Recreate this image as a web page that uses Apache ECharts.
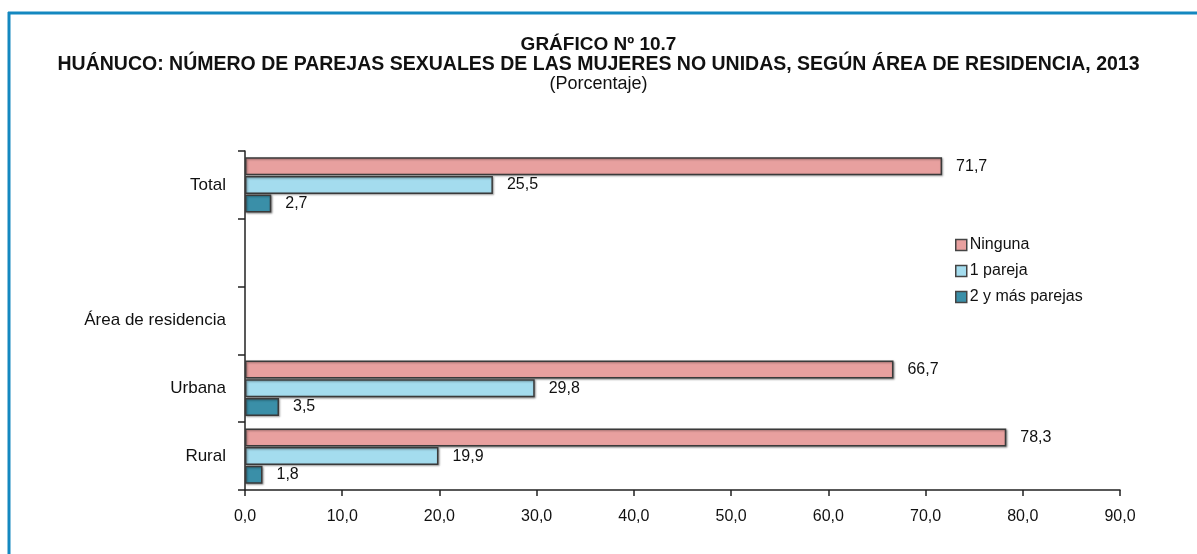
<!DOCTYPE html>
<html>
<head>
<meta charset="utf-8">
<script src="https://cdn.jsdelivr.net/npm/echarts@6/dist/echarts.min.js"></script>
<style>
  html, body { margin: 0; padding: 0; background: #fff; }
  #chart { width: 1197px; height: 554px; }
</style>
</head>
<body>
<div id="chart"></div>
<script>
// Huánuco 2013: parejas sexuales de mujeres no unidas, según área de residencia
const categories = ['Total', '', 'Área de residencia', 'Urbana', 'Rural'];
const seriesNames = ['Ninguna', '1 pareja', '2 y más parejas'];
const ninguna = [71.7, null, null, 66.7, 78.3];
const unaPareja = [25.5, null, null, 29.8, 19.9];
const dosYMas = [2.7, null, null, 3.5, 1.8];
const xTicks = { min: 0, max: 90, interval: 10 };

const FONT = "'Liberation Sans Narrow', 'Liberation Sans', Arial, sans-serif";
const colors = ['#e8a09f', '#a4dcee', '#3a8fa8'];

function fmt(v) {
  return Number(v).toFixed(1).replace('.', ',');
}

function barSeries(name, data, color) {
  return {
    name,
    type: 'bar',
    data,
    barWidth: 18,
    barGap: '4%',
    itemStyle: {
      color,
      borderColor: '#3a3a3a',
      borderWidth: 1.5,
      shadowColor: 'rgba(0,0,0,0.35)',
      shadowBlur: 2,
      shadowOffsetX: 1,
      shadowOffsetY: 1,
    },
    label: {
      show: true,
      position: 'right',
      distance: 14,
      color: '#111',
      fontFamily: FONT,
      fontSize: 16,
      formatter: p => (p.value == null ? '' : fmt(p.value)),
    },
  };
}

const chart = echarts.init(document.getElementById('chart'));
chart.setOption({
  backgroundColor: '#fff',
  animation: false,
  title: [
    {
      text: 'GRÁFICO Nº 10.7',
      left: 'center', top: 30,
      textStyle: { fontFamily: FONT, fontSize: 19, fontWeight: 'bold', color: '#111' },
    },
    {
      text: 'HUÁNUCO: NÚMERO DE PAREJAS SEXUALES DE LAS MUJERES NO UNIDAS, SEGÚN ÁREA DE RESIDENCIA, 2013',
      left: 'center', top: 50,
      textStyle: { fontFamily: FONT, fontSize: 19.5, fontWeight: 'bold', color: '#111' },
    },
    {
      text: '(Porcentaje)',
      left: 'center', top: 70,
      textStyle: { fontFamily: FONT, fontSize: 18, fontWeight: 'normal', color: '#111' },
    },
  ],
  graphic: [
    { type: 'line', shape: { x1: 8, y1: 13, x2: 1197, y2: 13 }, style: { stroke: '#1488c0', lineWidth: 3 } },
    { type: 'line', shape: { x1: 9, y1: 12, x2: 9, y2: 554 }, style: { stroke: '#1488c0', lineWidth: 3 } },
  ],
  legend: {
    orient: 'vertical',
    left: 955,
    top: 236,
    padding: 0,
    itemWidth: 11,
    itemHeight: 11,
    itemGap: 8,
    icon: 'rect',
    data: seriesNames,
    itemStyle: { borderColor: '#444', borderWidth: 1.5 },
    textStyle: { fontFamily: FONT, fontSize: 16, color: '#111', padding: [0, 0, 0, -2], lineHeight: 18 },
  },
  grid: { left: 245, right: 77, top: 151, bottom: 64 },
  xAxis: {
    type: 'value',
    min: xTicks.min,
    max: xTicks.max,
    interval: xTicks.interval,
    splitLine: { show: false },
    axisLine: { show: true, lineStyle: { color: '#222', width: 1.5 } },
    axisTick: { show: true, length: 6, lineStyle: { color: '#222', width: 1.5 } },
    axisLabel: { margin: 19, color: '#111', fontFamily: FONT, fontSize: 16, formatter: v => fmt(v) },
  },
  yAxis: {
    type: 'category',
    data: categories,
    inverse: true,
    axisLine: { show: true, lineStyle: { color: '#222', width: 1.5 } },
    axisTick: { show: true, length: 7, lineStyle: { color: '#222', width: 1.5 } },
    axisLabel: { margin: 19, color: '#111', fontFamily: FONT, fontSize: 17 },
  },
  series: [
    barSeries(seriesNames[0], ninguna, colors[0]),
    barSeries(seriesNames[1], unaPareja, colors[1]),
    barSeries(seriesNames[2], dosYMas, colors[2]),
  ],
});
</script>
</body>
</html>
